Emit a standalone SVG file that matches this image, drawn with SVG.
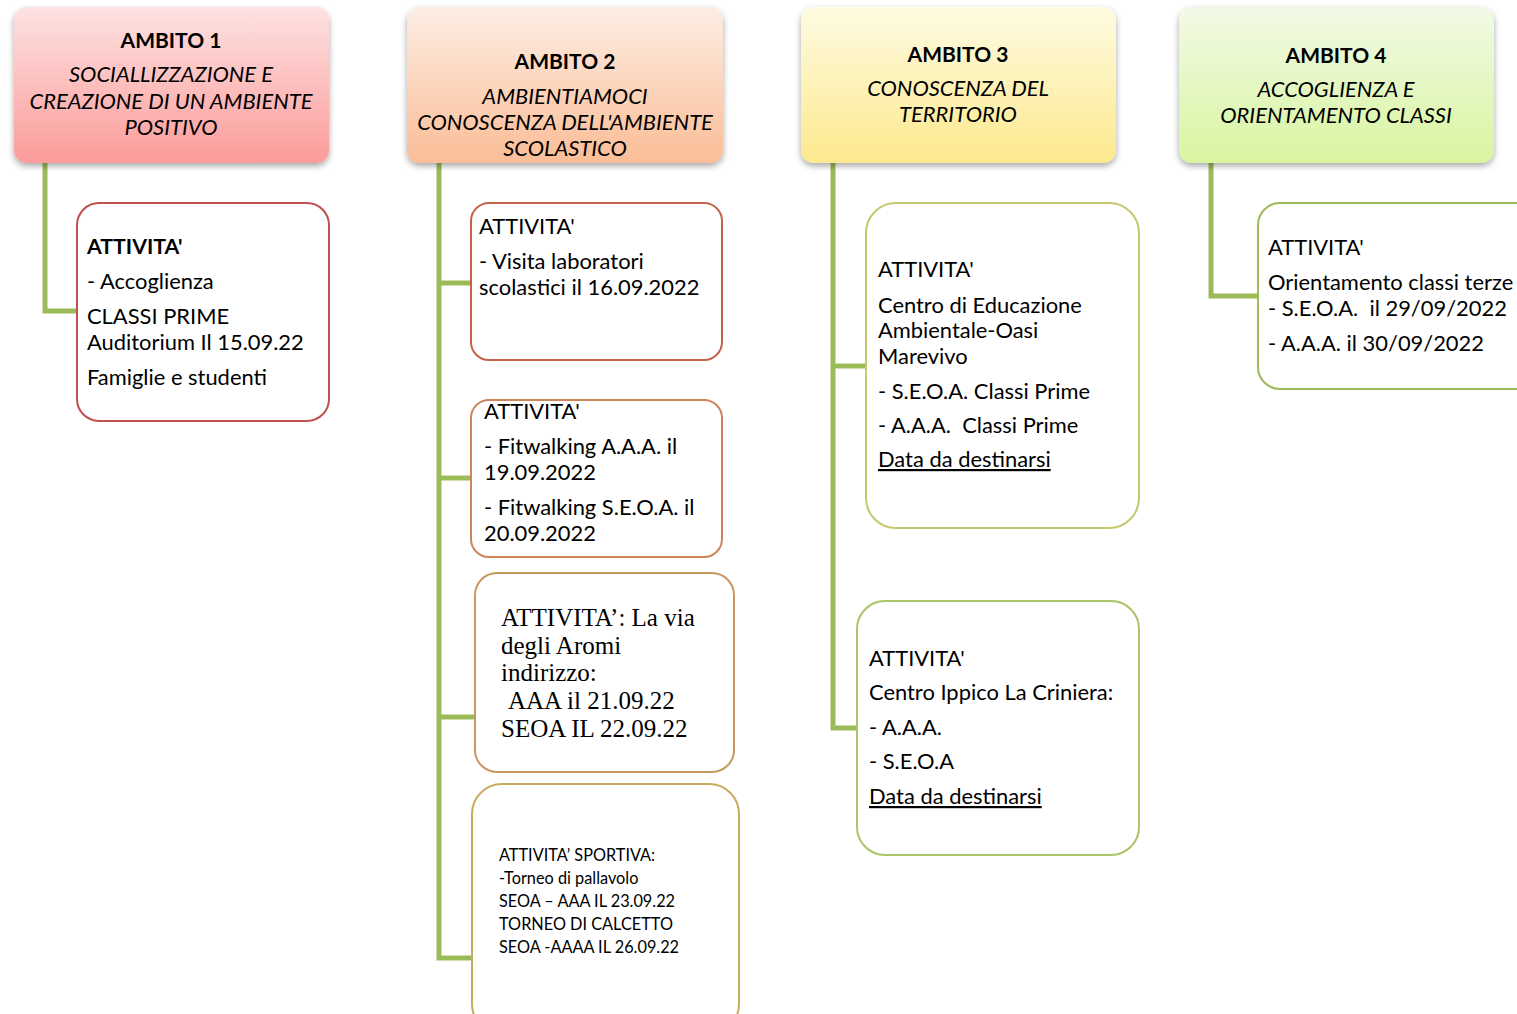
<svg xmlns="http://www.w3.org/2000/svg" width="1517" height="1014" viewBox="0 0 1517 1014">
<style>
text{font-family:Lato,"Open Sans","Liberation Sans",sans-serif;font-size:21.9px;fill:#000}
.h{font-weight:bold;text-anchor:middle;font-size:21px}
.i{font-style:italic;text-anchor:middle}
.b{font-weight:bold;font-size:21.3px}
.tm{font-family:"Liberation Serif","Times New Roman",serif;font-size:25px}
.sm{font-size:16.3px}
.u{text-decoration:underline}
.conn{fill:none;stroke:#9bbb59;stroke-width:5;stroke-linejoin:miter}
.box{fill:#fff;stroke-width:2}
</style>
<defs>
<filter id="sh" x="-10%" y="-10%" width="120%" height="130%">
<feDropShadow dx="0" dy="3" stdDeviation="3" flood-color="#000" flood-opacity="0.35"/>
</filter>
<linearGradient id="g1" x1="0" y1="0" x2="0" y2="1"><stop offset="0" stop-color="#fde2e2"/><stop offset="1" stop-color="#fb9c9a"/></linearGradient>
<linearGradient id="g2" x1="0" y1="0" x2="0" y2="1"><stop offset="0" stop-color="#fdeee4"/><stop offset="1" stop-color="#fbbd97"/></linearGradient>
<linearGradient id="g3" x1="0" y1="0" x2="0" y2="1"><stop offset="0" stop-color="#fefbe2"/><stop offset="1" stop-color="#fde98e"/></linearGradient>
<linearGradient id="g4" x1="0" y1="0" x2="0" y2="1"><stop offset="0" stop-color="#f2fae6"/><stop offset="1" stop-color="#d8f5a0"/></linearGradient>
</defs>
<g id="connectors">
<polyline class="conn" points="45,163 45,311 77,311"/>
<polyline class="conn" points="439,163 439,958 472,958"/>
<line class="conn" x1="439" y1="283" x2="471" y2="283"/>
<line class="conn" x1="439" y1="478" x2="471" y2="478"/>
<line class="conn" x1="439" y1="717" x2="475" y2="717"/>
<polyline class="conn" points="833,163 833,728 857,728"/>
<line class="conn" x1="833" y1="366" x2="866" y2="366"/>
<polyline class="conn" points="1211,163 1211,296 1258,296"/>
</g>
<g id="ambito1">
<rect x="14" y="7" width="315" height="156" rx="13" fill="url(#g1)" filter="url(#sh)"/>
<text class="h" x="171" y="48">AMBITO 1</text>
<text class="i" x="171" y="82">SOCIALLIZZAZIONE E</text>
<text class="i" x="171" y="109">CREAZIONE DI UN AMBIENTE</text>
<text class="i" x="171" y="135">POSITIVO</text>
</g>
<g id="ambito2">
<rect x="407" y="7" width="316" height="156" rx="13" fill="url(#g2)" filter="url(#sh)"/>
<text class="h" x="565" y="69">AMBITO 2</text>
<text class="i" x="565" y="104">AMBIENTIAMOCI</text>
<text class="i" x="565" y="130">CONOSCENZA DELL'AMBIENTE</text>
<text class="i" x="565" y="156">SCOLASTICO</text>
</g>
<g id="ambito3">
<rect x="801" y="7" width="315" height="156" rx="13" fill="url(#g3)" filter="url(#sh)"/>
<text class="h" x="958" y="62">AMBITO 3</text>
<text class="i" x="958" y="96">CONOSCENZA DEL</text>
<text class="i" x="958" y="122">TERRITORIO</text>
</g>
<g id="ambito4">
<rect x="1179" y="7" width="315" height="156" rx="13" fill="url(#g4)" filter="url(#sh)"/>
<text class="h" x="1336" y="63">AMBITO 4</text>
<text class="i" x="1336" y="97">ACCOGLIENZA E</text>
<text class="i" x="1336" y="123">ORIENTAMENTO CLASSI</text>
</g>
<g id="att1">
<rect class="box" x="77" y="203" width="252" height="218" rx="22" stroke="#c0504d"/>
<text class="b" x="87" y="254">ATTIVITA'</text>
<text x="87" y="289">- Accoglienza</text>
<text x="87" y="324">CLASSI PRIME</text>
<text x="87" y="350">Auditorium Il 15.09.22</text>
<text x="87" y="385">Famiglie e studenti</text>
</g>
<g id="att2a">
<rect class="box" x="471" y="203" width="251" height="157" rx="18" stroke="#c4634a"/>
<text x="479" y="234">ATTIVITA'</text>
<text x="479" y="269">- Visita laboratori</text>
<text x="479" y="295">scolastici il 16.09.2022</text>
</g>
<g id="att2b">
<rect class="box" x="471" y="400" width="251" height="157" rx="18" stroke="#d0845a"/>
<text x="484" y="419">ATTIVITA'</text>
<text x="484" y="454">- Fitwalking A.A.A. il</text>
<text x="484" y="480">19.09.2022</text>
<text x="484" y="515">- Fitwalking S.E.O.A. il</text>
<text x="484" y="541">20.09.2022</text>
</g>
<g id="att2c">
<rect class="box" x="475" y="573" width="259" height="199" rx="22" stroke="#c8975e"/>
<text class="tm" x="501" y="626">ATTIVITA’: La via</text>
<text class="tm" x="501" y="654">degli Aromi</text>
<text class="tm" x="501" y="681">indirizzo:</text>
<text class="tm" x="508" y="709">AAA il 21.09.22</text>
<text class="tm" x="501" y="737">SEOA IL 22.09.22</text>
</g>
<g id="att2d">
<rect class="box" x="472" y="784" width="267" height="250" rx="30" stroke="#c9ab5e"/>
<text class="sm" x="499" y="861">ATTIVITA’ SPORTIVA:</text>
<text class="sm" x="499" y="884">-Torneo di pallavolo</text>
<text class="sm" x="499" y="907">SEOA – AAA IL 23.09.22</text>
<text class="sm" x="499" y="930">TORNEO DI CALCETTO</text>
<text class="sm" x="499" y="953">SEOA -AAAA IL 26.09.22</text>
</g>
<g id="att3a">
<rect class="box" x="866" y="203" width="273" height="325" rx="30" stroke="#c5c86c"/>
<text x="878" y="277">ATTIVITA'</text>
<text x="878" y="313">Centro di Educazione</text>
<text x="878" y="338">Ambientale-Oasi</text>
<text x="878" y="364">Marevivo</text>
<text x="878" y="399">- S.E.O.A. Classi Prime</text>
<text x="878" y="433" xml:space="preserve">- A.A.A.  Classi Prime</text>
<text class="u" x="878" y="467">Data da destinarsi</text>
</g>
<g id="att3b">
<rect class="box" x="857" y="601" width="282" height="254" rx="28" stroke="#abc46a"/>
<text x="869" y="666">ATTIVITA'</text>
<text x="869" y="700">Centro Ippico La Criniera:</text>
<text x="869" y="735">- A.A.A.</text>
<text x="869" y="769">- S.E.O.A</text>
<text class="u" x="869" y="804">Data da destinarsi</text>
</g>
<g id="att4">
<rect class="box" x="1258" y="203" width="290" height="186" rx="22" stroke="#9bbb59"/>
<text x="1268" y="255">ATTIVITA'</text>
<text x="1268" y="290">Orientamento classi terze</text>
<text x="1268" y="316" xml:space="preserve">- S.E.O.A.  il 29/09/2022</text>
<text x="1268" y="351">- A.A.A. il 30/09/2022</text>
</g>
</svg>
